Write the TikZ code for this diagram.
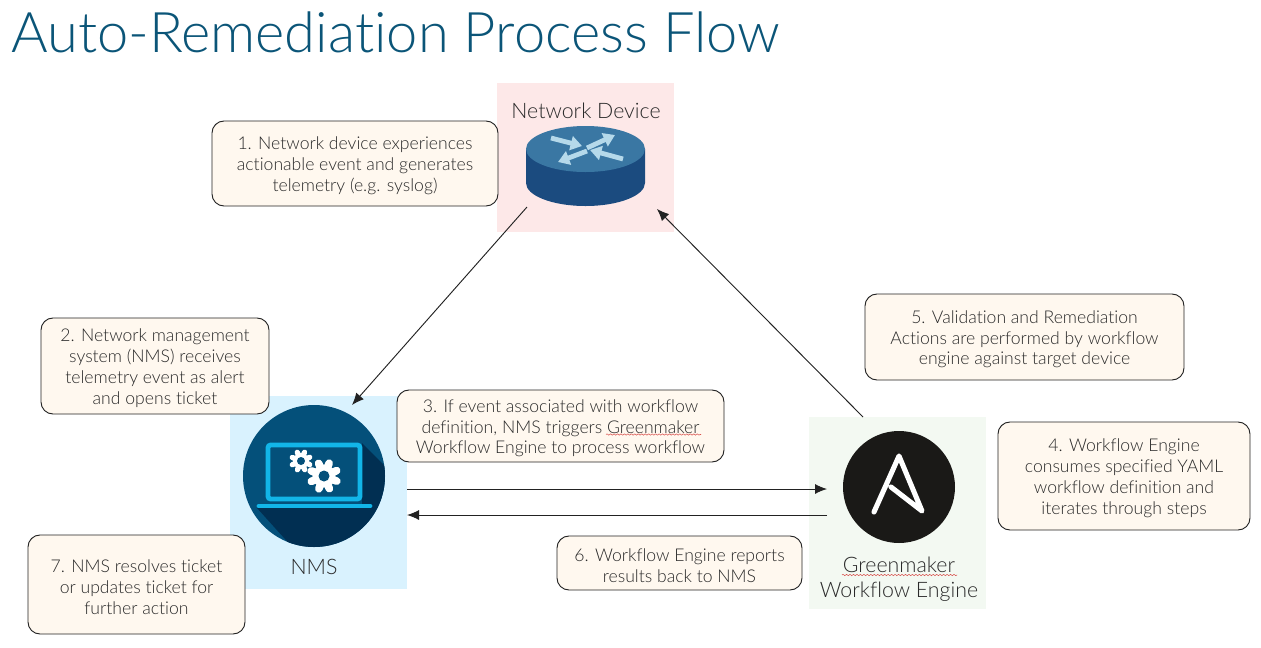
\documentclass[tikz,border=0pt]{standalone}
\usepackage{fontspec}
\setmainfont{Lato Light}[Ligatures={NoCommon}]
\usetikzlibrary{arrows.meta,decorations.pathmorphing,calc}
\definecolor{titleblue}{HTML}{0B5578}
\definecolor{txt}{HTML}{2A2A2A}
\definecolor{boxfill}{HTML}{FFF8EF}
\definecolor{edge}{HTML}{222222}
\definecolor{pinkp}{HTML}{FDE8E8}
\definecolor{bluep}{HTML}{D9F2FE}
\definecolor{greenp}{HTML}{F3F9F2}
\definecolor{rtop}{HTML}{3A77A3}
\definecolor{rside}{HTML}{1B4B7F}
\definecolor{rarrow}{HTML}{B5D9EA}
\definecolor{nmsc}{HTML}{04507A}
\definecolor{nmsd}{HTML}{012F52}
\definecolor{cyanl}{HTML}{12B5E8}
\definecolor{blackc}{HTML}{1A1917}
\definecolor{squig}{HTML}{D9534F}
\tikzset{
  x=0.75pt,y=-0.75pt,
  panel/.style={draw=none,inner sep=0pt},
  note/.style={draw=edge,fill=boxfill,rounded corners=9pt,line width=0.7pt,inner sep=0pt,align=center,text=txt,
     font=\fontsize{13.2pt}{15.7pt}\selectfont},
  plabel/.style={text=txt,align=center,inner sep=0pt,font=\fontsize{16pt}{19pt}\selectfont},
  flow/.style={draw=edge,line width=0.7pt,-{Latex[length=9pt,width=7.5pt]}},
  routerarrow/.style={draw=rarrow,line width=3.6pt,-{Triangle[length=8.5pt,width=10.5pt]}},
  squiggle/.style={draw=squig,line width=0.4pt,decorate,decoration={snake,amplitude=0.5pt,segment length=2.6pt}},
}
\newcommand{\ntop}{\rule{0pt}{13pt}}
\newcommand{\gearshape}[4]{% x,y,outer r,hole r
  \fill[white] (#1,#2) circle ({#3*0.72});
  \foreach \a in {0,45,...,315}{
    \draw[white,line width={#3*0.36pt},line cap=round] (#1,#2) -- ++({\a+22}:{#3*0.86});
  }
  \fill[nmsc] (#1,#2) circle (#4);
}
\begin{document}
\begin{tikzpicture}
\useasboundingbox (0,0) rectangle (1261,647);
\fill[white] (0,0) rectangle (1261,647);

\node[anchor=base west,inner sep=0pt,text=titleblue,font=\fontsize{42pt}{42pt}\selectfont] (title) at (11,52) {Auto-Remediation Process Flow};

% panels
\node[panel,fill=pinkp,minimum width=132.75pt,minimum height=111.75pt] (pdev) at (585.5,157.5) {};
\node[panel,fill=bluep,minimum width=132.75pt,minimum height=144.75pt] (pnms) at (318.5,492.5) {};
\node[panel,fill=greenp,minimum width=132.75pt,minimum height=144pt] (pgw) at (897.5,513) {};

% router
\fill[rside] (526,149) -- (526,183) arc[start angle=180,end angle=0,x radius=59.5,y radius=23] -- (645,149) -- cycle;
\fill[rtop] (585.5,149) ellipse [x radius=59.5,y radius=23];
\coordinate (r1a) at (551,138); \coordinate (r1b) at (582,146);
\coordinate (r2a) at (587,148); \coordinate (r2b) at (615,135);
\coordinate (r3a) at (587,151); \coordinate (r3b) at (558,162);
\coordinate (r4a) at (623,159); \coordinate (r4b) at (590,150);
\draw[routerarrow] (r1a) -- (r1b);
\draw[routerarrow] (r2a) -- (r2b);
\draw[routerarrow] (r3a) -- (r3b);
\draw[routerarrow] (r4a) -- (r4b);

% NMS icon
\fill[nmsc] (314,476) circle (71);
\begin{scope}
  \clip (314,476) circle (71);
  \fill[nmsd] (362,443) -- (460,541) -- (340,600) -- (257,508) -- (362,508) -- cycle;
\end{scope}
\draw[cyanl,line width=3.6pt,rounded corners=2pt] (268,445) rectangle (360,499);
\draw[cyanl,line width=3.6pt,line cap=round] (259,506) -- (370,506);
\gearshape{301}{461}{11}{4}
\gearshape{324}{476}{16}{5.5}

% engine icon
\fill[blackc] (899,487) circle (56);
\draw[white,line width=3.8pt,line cap=round,line join=round] (874,512) -- (899,456) -- (922,511) -- (891,487);

% labels
\node[plabel] (ldev) at (586,111) {Network Device};
\node[plabel] (lnms) at (314,567) {NMS};
\node[plabel] (lgw) at (899,579.5) {Greenmaker\\Workflow Engine};
\draw[squiggle] (842,575) -- (957,575);

% notes
\node[note,minimum width=214.5pt,minimum height=63.75pt] (n1) at (355,163.5) {\ntop 1. Network device experiences\\actionable event and generates\\telemetry (e.g. syslog)};
\node[note,minimum width=171pt,minimum height=72pt] (n2) at (155,366) {\ntop 2. Network management\\system (NMS) receives\\telemetry event as alert\\and opens ticket};
\node[note,minimum width=245.25pt,minimum height=54pt] (n3) at (560.5,426) {\ntop 3. If event associated with workflow\\definition, NMS triggers Greenmaker\\Workflow Engine to process workflow};
\node[note,minimum width=189pt,minimum height=81pt] (n4) at (1124,476) {\ntop 4. Workflow Engine\\consumes specified YAML\\workflow definition and\\iterates through steps};
\node[note,minimum width=239.25pt,minimum height=64.5pt] (n5) at (1024.5,337) {\ntop 5. Validation and Remediation\\Actions are performed by workflow\\engine against target device};
\node[note,minimum width=183.75pt,minimum height=40.5pt] (n6) at (679.5,563) {\ntop 6. Workflow Engine reports\\results back to NMS};
\node[note,minimum width=162.75pt,minimum height=74.25pt] (n7) at (136.5,584.5) {\ntop 7. NMS resolves ticket\\or updates ticket for\\further action};
\draw[squiggle] (606,434.5) -- (701,434.5);

% connector ends
\coordinate (aS) at (527,207);
\coordinate (aE) at (352,405);
\coordinate (bS) at (863,417);
\coordinate (bE) at (657,209);
\coordinate (cS) at (407,489);
\coordinate (cE) at (827,489);
\coordinate (dS) at (827,515);
\coordinate (dE) at (407,515);
\draw[flow] (aS) -- (aE);
\draw[flow] (bS) -- (bE);
\draw[flow] (cS) -- (cE);
\draw[flow] (dS) -- (dE);
\end{tikzpicture}
\end{document}
